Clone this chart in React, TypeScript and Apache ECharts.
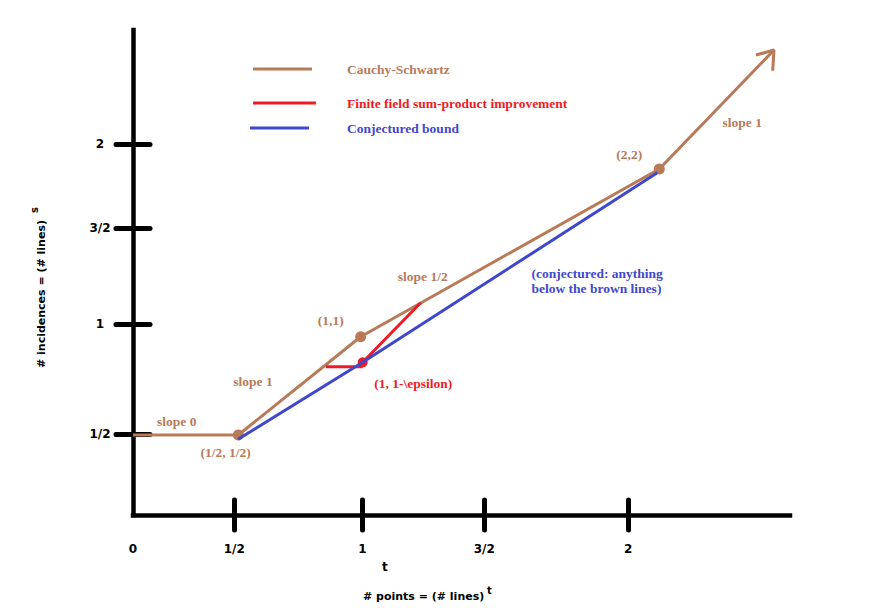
import React, { useEffect, useRef } from "react";
import * as echarts from "echarts";

// Axis extents (in the chart's own t / s units, calibrated to the hand-drawn axes)
const X_MAX = 2.653;
const Y_MAX = 2.617;

// Hand-drawn tick positions and their labels
const xLabelValues = [0, 0.409, 0.926, 1.4185, 2.0];
const xLabelTexts = ["0", "1/2", "1", "3/2", "2"];
const xTickValues = [0.409, 0.926, 1.4185, 2.0];
const yTickValues = [0.4354, 1.0289, 1.5468, 2.0];
const yLabelTexts = ["1/2", "1", "3/2", "2"];

// Cauchy-Schwartz (brown) polyline
const cauchyX = [0, 0.4252, 0.9194, 2.1252, 2.5883];
const cauchyY = [0.4316, 0.4316, 0.962, 1.8667, 2.5088];
const cauchyDotIdx = [1, 2, 3];
// arrow head barbs at the end of the brown line
const arrowX = [2.5156, 2.5883, 2.5831];
const arrowY = [2.4818, 2.5088, 2.3971];

// Conjectured bound (blue)
const conjX = [0.424, 0.9275, 2.117];
const conjY = [0.4084, 0.8238, 1.8468];

// Finite field sum-product improvement (red)
const sumHX = [0.7793, 0.9275];
const sumHY = [0.8001, 0.8001];
const sumDX = [0.9275, 1.1617];
const sumDY = [0.8238, 1.1454];

// Annotations
const brownNotes = ["slope 0", "slope 1", "(1/2, 1/2)", "(1,1)", "slope 1/2", "(2,2)", "slope 1"];
const brownNoteX = [0.1765, 0.4846, 0.3743, 0.7983, 1.1698, 2.004, 2.4603];
const brownNoteY = [0.5071, 0.7192, 0.3361, 1.0494, 1.2857, 1.9477, 2.1165];
const redNotes = ["(1, 1-\\epsilon)"];
const redNoteX = [1.1318];
const redNoteY = [0.7105];
const blueNotes = ["(conjectured: anything\nbelow the brown lines)"];
const blueNoteX = [1.6071];
const blueNoteY = [1.2614];

const BROWN = "#b97a57";
const RED = "#ed1c24";
const BLUE = "#3f48cc";
const SERIF = "'Liberation Serif', 'DejaVu Serif', serif";
const SANS = "'DejaVu Sans', sans-serif";
const NOTE_SIZE = 13.5;

const NAME_CS = "Cauchy-Schwartz";
const NAME_FF = "Finite field sum-product improvement";
const NAME_CB = "Conjectured bound";

function pairs(xs: number[], ys: number[]) {
  return xs.map((x, i) => [x, ys[i]]);
}

function labelFor(values: number[], texts: string[], v: number) {
  for (let i = 0; i < values.length; i++) {
    if (Math.abs(values[i] - v) < 1e-6) return texts[i];
  }
  return "";
}

function legendFor(name: string, color: string, left: number, top: number, width: number, pad: number) {
  return {
    data: [name],
    left,
    top,
    orient: "horizontal",
    icon: "rect",
    itemWidth: width,
    itemHeight: 3,
    itemGap: 0,
    selectedMode: false,
    formatter: (n: string) => `{p|}{t|${n}}`,
    textStyle: {
      rich: {
        p: { width: pad },
        t: { color, fontFamily: SERIF, fontWeight: "bold", fontSize: NOTE_SIZE, lineHeight: 16 },
      },
    },
  };
}

function noteSeries(name: string, texts: string[], xs: number[], ys: number[], color: string, align: string) {
  return {
    name,
    type: "scatter",
    silent: true,
    symbolSize: 1,
    itemStyle: { color: "rgba(0,0,0,0)" },
    data: texts.map((t, i) => ({ value: [xs[i], ys[i]], name: t })),
    label: {
      show: true,
      position: align === "left" ? "right" : "inside",
      distance: 0,
      formatter: "{b}",
      color,
      opacity: 1,
      textBorderWidth: 0,
      fontFamily: SERIF,
      fontWeight: "bold",
      fontSize: NOTE_SIZE,
      lineHeight: 15,
      align: align,
    },
    z: 6,
  };
}

export default function App() {
  const ref = useRef<HTMLDivElement>(null);

  useEffect(() => {
    if (!ref.current) return;
    const chart = echarts.init(ref.current, undefined, { renderer: "svg" });

    const axisCommon = {
      type: "value",
      splitLine: { show: false },
    };

    const option: any = {
      animation: false,
      backgroundColor: "#ffffff",
      grid: { left: 133, top: 30, width: 657, height: 485 },
      legend: [
        legendFor(NAME_CS, BROWN, 248, 57, 59, 30),
        legendFor(NAME_FF, RED, 248, 91, 63, 26),
        legendFor(NAME_CB, BLUE, 245, 116, 59, 33),
      ],
      xAxis: [
        {
          ...axisCommon,
          min: 0,
          max: X_MAX,
          position: "bottom",
          axisLine: { show: true, onZero: false, lineStyle: { color: "#000", width: 4.5, cap: "square" } },
          axisTick: {
            show: true,
            inside: false,
            length: 15,
            customValues: xTickValues,
            lineStyle: { color: "#000", width: 5, cap: "round" },
          },
          axisLabel: {
            show: true,
            customValues: xLabelValues,
            margin: 28,
            color: "#000",
            fontFamily: SANS,
            fontWeight: "bold",
            fontSize: 12,
            formatter: (v: number) => labelFor(xLabelValues, xLabelTexts, v),
          },
        },
        {
          ...axisCommon,
          min: 0,
          max: X_MAX,
          position: "bottom",
          offset: 0,
          axisLine: { show: false, onZero: false },
          axisTick: {
            show: true,
            inside: true,
            length: 15,
            customValues: xTickValues,
            lineStyle: { color: "#000", width: 5, cap: "round" },
          },
          axisLabel: { show: false },
        },
      ],
      yAxis: [
        {
          ...axisCommon,
          min: 0,
          max: Y_MAX,
          position: "left",
          axisLine: { show: true, onZero: false, lineStyle: { color: "#000", width: 4.5, cap: "square" } },
          axisTick: {
            show: true,
            inside: false,
            length: 17,
            customValues: yTickValues,
            lineStyle: { color: "#000", width: 5, cap: "round" },
          },
          axisLabel: {
            show: true,
            customValues: yTickValues,
            margin: 33,
            align: "center",
            color: "#000",
            fontFamily: SANS,
            fontWeight: "bold",
            fontSize: 12,
            formatter: (v: number) => labelFor(yTickValues, yLabelTexts, v),
          },
        },
        {
          ...axisCommon,
          min: 0,
          max: Y_MAX,
          position: "left",
          offset: 0,
          axisLine: { show: false, onZero: false },
          axisTick: {
            show: true,
            inside: true,
            length: 17,
            customValues: yTickValues,
            lineStyle: { color: "#000", width: 5, cap: "round" },
          },
          axisLabel: { show: false },
        },
      ],
      graphic: [
        {
          type: "text",
          left: 363,
          top: 591,
          style: { text: "# points = (# lines)", fill: "#000", font: `bold 11px ${SANS}` },
        },
        {
          type: "text",
          left: 487,
          top: 585,
          style: { text: "t", fill: "#000", font: `bold 10px ${SANS}` },
        },
        {
          type: "text",
          left: 382,
          top: 561,
          style: { text: "t", fill: "#000", font: `bold 12px ${SANS}` },
        },
        {
          type: "text",
          x: 41,
          y: 368,
          rotation: Math.PI / 2,
          style: {
            text: "# incidences = (# lines)",
            fill: "#000",
            font: `bold 11px ${SANS}`,
            align: "left",
            verticalAlign: "middle",
          },
        },
        {
          type: "text",
          x: 34,
          y: 210,
          rotation: Math.PI / 2,
          style: {
            text: "s",
            fill: "#000",
            font: `bold 10px ${SANS}`,
            align: "center",
            verticalAlign: "middle",
          },
        },
      ],
      series: [
        {
          name: NAME_CS,
          type: "line",
          xAxisIndex: 0,
          yAxisIndex: 0,
          color: BROWN,
          lineStyle: { color: BROWN, width: 3 },
          symbol: "none",
          showSymbol: true,
          data: pairs(cauchyX, cauchyY).map((p, i) =>
            cauchyDotIdx.includes(i)
              ? { value: p, symbol: "circle", symbolSize: 11, itemStyle: { color: BROWN } }
              : { value: p, symbol: "none" }
          ),
          z: 3,
        },
        {
          name: NAME_CS,
          type: "line",
          color: BROWN,
          lineStyle: { color: BROWN, width: 3 },
          symbol: "none",
          data: pairs(arrowX, arrowY),
          z: 3,
        },
        {
          name: NAME_FF,
          type: "line",
          color: RED,
          lineStyle: { color: RED, width: 3 },
          symbol: "none",
          data: pairs(sumHX, sumHY),
          z: 4,
        },
        {
          name: NAME_FF,
          type: "line",
          color: RED,
          lineStyle: { color: RED, width: 3 },
          symbol: "none",
          showSymbol: true,
          data: pairs(sumDX, sumDY).map((p, i) =>
            i === 0
              ? { value: p, symbol: "circle", symbolSize: 10, itemStyle: { color: RED } }
              : { value: p, symbol: "none" }
          ),
          z: 4,
        },
        {
          name: NAME_CB,
          type: "line",
          color: BLUE,
          lineStyle: { color: BLUE, width: 3 },
          symbol: "none",
          data: pairs(conjX, conjY),
          z: 5,
        },
        noteSeries("notes-brown", brownNotes, brownNoteX, brownNoteY, BROWN, "center"),
        noteSeries("notes-red", redNotes, redNoteX, redNoteY, RED, "center"),
        noteSeries("notes-blue", blueNotes, blueNoteX, blueNoteY, BLUE, "left"),
      ],
    };

    chart.setOption(option);
    return () => chart.dispose();
  }, []);

  return (
    <div
      ref={ref}
      style={{ position: "fixed", left: 0, top: 0, width: 875, height: 608, background: "#fff" }}
    />
  );
}
